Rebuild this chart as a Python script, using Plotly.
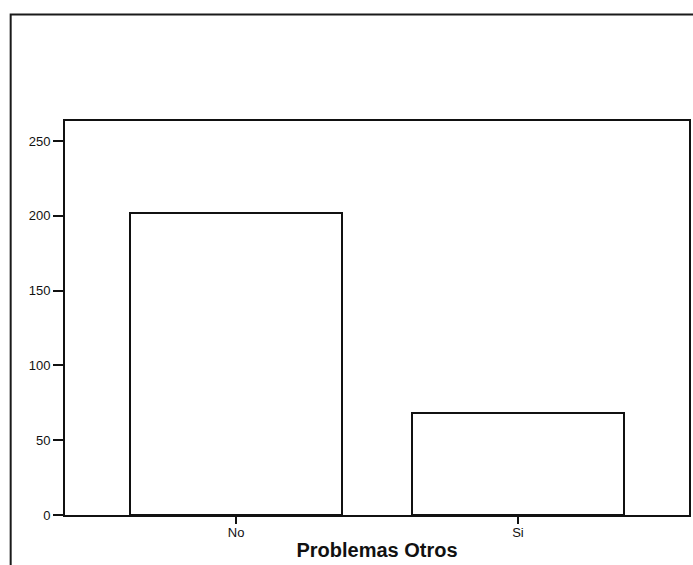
import plotly.graph_objects as go

# Frequency of "Problemas Otros"
categories = ["No", "Si"]
counts = [202, 68]
y_ticks = [0, 50, 100, 150, 200, 250]

fig = go.Figure(
    go.Bar(
        x=[0, 1],
        y=counts,
        width=0.75,
        marker=dict(color="white", line=dict(color="#111111", width=2)),
        hoverinfo="y",
    )
)

W, H = 693, 565
L, R, T, B = 65, 2, 121, 50
pw, ph = W - L - R, H - T - B

# outer frame around the whole chart (partly cut off by the window)
fig.add_shape(
    type="rect", xref="paper", yref="paper",
    x0=(10.5 - L) / pw, x1=1.05,
    y0=-0.3, y1=(H - B - 14.5) / ph,
    line=dict(color="#1a1a1a", width=2),
    layer="above",
)

fig.update_layout(
    width=W, height=H,
    margin=dict(l=L, r=R, t=T, b=B),
    paper_bgcolor="white",
    plot_bgcolor="white",
    showlegend=False,
    bargap=0,
    font=dict(family="Arial, Liberation Sans, sans-serif", color="#111111"),
    xaxis=dict(
        tickvals=[0, 1],
        ticktext=categories,
        range=[-0.607, 1.607],
        showgrid=False, zeroline=False,
        showline=True, mirror=True, linecolor="#111111", linewidth=2,
        ticks="outside", ticklen=7, tickwidth=2, tickcolor="#111111",
        tickfont=dict(size=13), ticklabelstandoff=-3,
        title=dict(text="<b>Problemas Otros</b>", font=dict(size=20), standoff=4),
    ),
    yaxis=dict(
        range=[0, 263.4],
        tickvals=y_ticks,
        showgrid=False, zeroline=False,
        showline=True, mirror=True, linecolor="#111111", linewidth=2,
        ticks="outside", ticklen=10, tickwidth=2, tickcolor="#111111",
        tickfont=dict(size=13),
    ),
)

# drop the default 8px page margin so the figure fills the window exactly
fig.write_html(
    "out.html",
    config={"displayModeBar": False},
    post_script="document.body.style.margin='0';document.body.style.overflow='hidden';",
)
